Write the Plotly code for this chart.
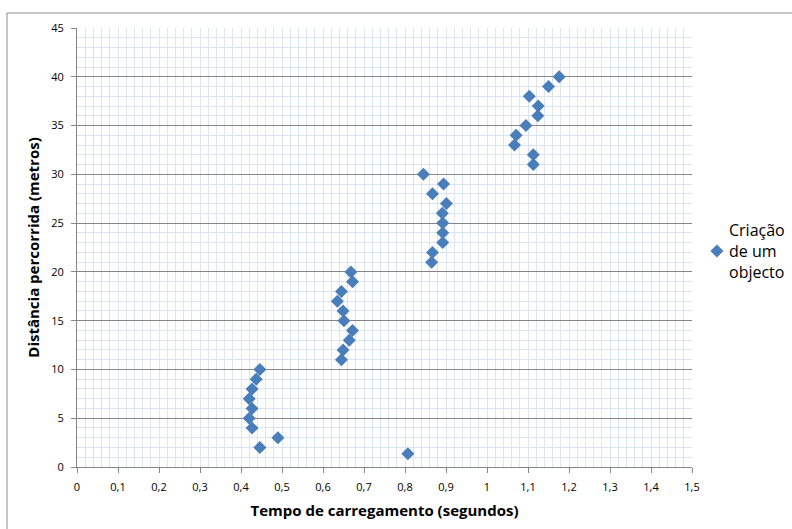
import plotly.graph_objects as go

series_name = "Criação<br>de um<br>objecto"
tempo = [0.807, 0.446, 0.49, 0.427, 0.42, 0.427, 0.42, 0.427, 0.437, 0.446,
         0.645, 0.649, 0.664, 0.672, 0.651, 0.649, 0.635, 0.645, 0.672, 0.668,
         0.865, 0.867, 0.892, 0.892, 0.892, 0.891, 0.901, 0.867, 0.894, 0.845,
         1.113, 1.113, 1.067, 1.071, 1.095, 1.124, 1.125, 1.103, 1.15, 1.176]
distancia = [1.35, 2, 3, 4, 5, 6, 7, 8, 9, 10,
             11, 12, 13, 14, 15, 16, 17, 18, 19, 20,
             21, 22, 23, 24, 25, 26, 27, 28, 29, 30,
             31, 32, 33, 34, 35, 36, 37, 38, 39, 40]

x_title = "Tempo de carregamento (segundos)"
y_title = "Distância percorrida (metros)"

minor_col = "#dbe5f1"
major_col = "#868686"
font_fam = "Open Sans, Liberation Sans, sans-serif"

fig = go.Figure()
fig.add_trace(go.Scatter(
    x=tempo, y=distancia, mode="markers", name=" ",
    marker=dict(symbol="diamond", size=10, color="#4a7ebb"),
    showlegend=True,
))

fig.update_layout(
    width=792, height=529,
    margin=dict(l=77, r=100, t=28, b=62),
    paper_bgcolor="white", plot_bgcolor="white",
    separators=",.",
    font=dict(family=font_fam, color="#000000", size=11),
    showlegend=True,
    legend=dict(x=1.008, y=0.492, xanchor="left", yanchor="middle",
                font=dict(size=12, family=font_fam), itemsizing="trace",
                itemwidth=30, tracegroupgap=0, bgcolor="rgba(0,0,0,0)"),
    xaxis=dict(
        range=[0, 1.5], dtick=0.1, tick0=0,
        showgrid=True, gridcolor=minor_col, gridwidth=1,
        minor=dict(dtick=0.02, showgrid=True, gridcolor=minor_col, gridwidth=1, ticks=""),
        showline=True, linecolor=major_col, linewidth=1,
        ticks="outside", ticklen=5, tickcolor=major_col,
        ticklabelstandoff=5,
        zeroline=False,
        title=dict(text="<b>" + x_title + "</b>", font=dict(size=15), standoff=12),
        tickfont=dict(size=11),
    ),
    yaxis=dict(
        range=[0, 45], dtick=5, tick0=0,
        showgrid=True, gridcolor=major_col, gridwidth=1,
        minor=dict(dtick=1, showgrid=True, gridcolor=minor_col, gridwidth=1, ticks=""),
        showline=True, linecolor=major_col, linewidth=1,
        ticks="outside", ticklen=5, tickcolor=major_col,
        ticklabelstandoff=5,
        zeroline=False,
        title=dict(text="<b>" + y_title + "</b>", font=dict(size=15), standoff=7),
        tickfont=dict(size=11),
    ),
)

fig.add_annotation(xref="paper", yref="paper", x=(727 - 77) / 615, y=0.492,
                   xanchor="left", yanchor="middle", align="left", showarrow=False,
                   text=series_name, font=dict(size=16, family=font_fam))

fig.add_shape(type="rect", xref="paper", yref="paper",
              x0=(7 - 77) / 615, x1=1.3, y0=-0.3, y1=(467 - 13) / 439,
              line=dict(color="#8c8c8c", width=1), layer="below")

fig.write_html("out.html")
